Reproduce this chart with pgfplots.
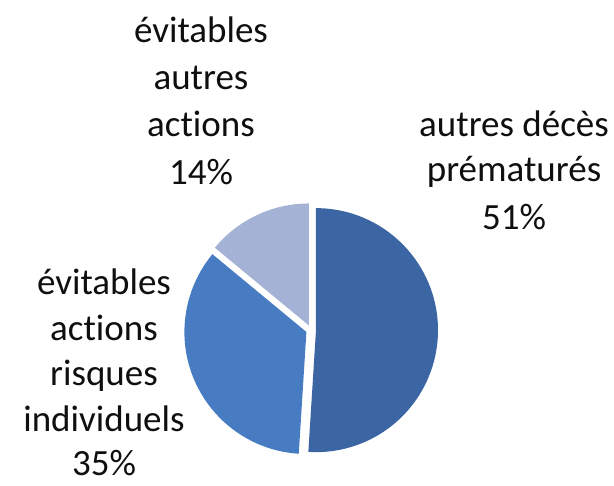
\documentclass[border=0pt]{standalone}
\usepackage{pgfplots}
\pgfplotsset{compat=1.18}
\usepackage{fontspec}
\setmainfont[Ligatures=NoCommon]{Carlito}

\definecolor{sliceA}{RGB}{60,102,163}
\definecolor{sliceB}{RGB}{72,124,194}
\definecolor{sliceC}{RGB}{163,178,213}
\definecolor{txt}{RGB}{15,15,15}

\tikzset{lbl/.style={font=\fontsize{37}{46.5}\selectfont, text=txt, inner sep=0pt, anchor=base}}

\begin{document}
\begin{tikzpicture}
% shares in percent
\def\vA{51}\def\vB{35}\def\vC{14}
\pgfmathsetmacro\aA{90}
\pgfmathsetmacro\aB{\aA-3.6*\vA}
\pgfmathsetmacro\aC{\aB-3.6*\vB}
\pgfmathsetmacro\aD{\aC-3.6*\vC}
\pgfmathsetmacro\mA{(\aA+\aB)/2}
\pgfmathsetmacro\mB{(\aB+\aC)/2}
\pgfmathsetmacro\mC{(\aC+\aD)/2}
\def\cx{311}\def\cy{156}\def\r{122pt}\def\ex{5pt}
\begin{axis}[
    x=1pt, y=1pt,
    xmin=0, xmax=614, ymin=0, ymax=486,
    hide axis, clip=false,
]
% invisible frame so the page keeps the full size
\path (axis cs:0,0) rectangle (axis cs:614,486);

\fill[sliceA, shift={(\mA:\ex)}] (axis cs:\cx,\cy) -- ++(\aA:\r) arc[start angle=\aA, end angle=\aB, radius=\r] -- cycle;
\fill[sliceB, shift={(\mB:\ex)}] (axis cs:\cx,\cy) -- ++(\aB:\r) arc[start angle=\aB, end angle=\aC, radius=\r] -- cycle;
\fill[sliceC, shift={(\mC:\ex)}] (axis cs:\cx,\cy) -- ++(\aC:\r) arc[start angle=\aC, end angle=\aD, radius=\r] -- cycle;

% labels
\node[lbl] at (axis cs:201,443) {évitables};
\node[lbl] at (axis cs:201,396) {autres};
\node[lbl] at (axis cs:201,349) {actions};
\node[lbl] at (axis cs:201,301) {\vC\%};

\node[lbl] at (axis cs:514,349) {autres décès};
\node[lbl] at (axis cs:514,304) {prématurés};
\node[lbl] at (axis cs:514,256) {\vA\%};

\node[lbl] at (axis cs:104,191) {évitables};
\node[lbl] at (axis cs:104,145) {actions};
\node[lbl] at (axis cs:104,100) {risques};
\node[lbl] at (axis cs:104,54) {individuels};
\node[lbl] at (axis cs:104,10) {\vB\%};
\end{axis}
\end{tikzpicture}
\end{document}
